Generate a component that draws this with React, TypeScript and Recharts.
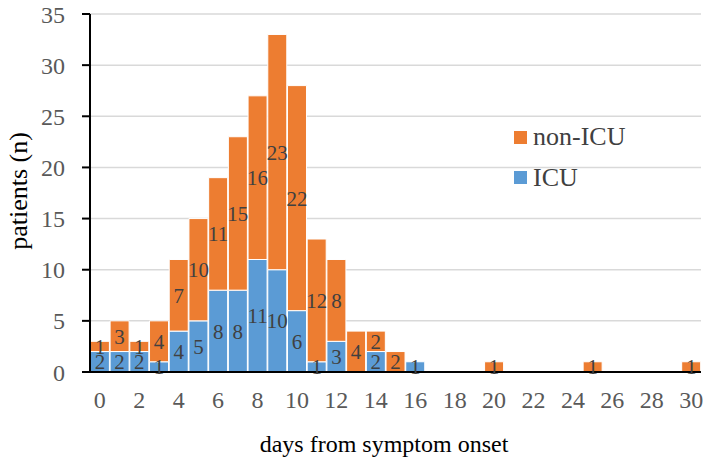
import React from 'react'
import { BarChart, Bar, XAxis, YAxis, CartesianGrid, LabelList, Customized } from 'recharts'

const days = [
  '0', '1', '2', '3', '4', '5', '6', '7', '8', '9', '10', '11', '12', '13', '14', '15',
  '16', '17', '18', '19', '20', '21', '22', '23', '24', '25', '26', '27', '28', '29', '30',
]
const icu = [2, 2, 2, 1, 4, 5, 8, 8, 11, 10, 6, 1, 3, 0, 2, 0, 1, 0, 0, 0, 0, 0, 0, 0, 0, 0, 0, 0, 0, 0, 0]
const nonIcu = [1, 3, 1, 4, 7, 10, 11, 15, 16, 23, 22, 12, 8, 4, 2, 2, 0, 0, 0, 0, 1, 0, 0, 0, 0, 1, 0, 0, 0, 0, 1]
const yTicks = [0, 5, 10, 15, 20, 25, 30, 35]

const data = days.map((d, i) => ({ day: d, icu: icu[i], nonIcu: nonIcu[i] }))

const FONT = '"Liberation Serif", "Times New Roman", serif'
const ORANGE = '#ED7D31'
const BLUE = '#5B9BD5'

const hideZero = (v: any) => (v ? v : '')

// legend + axis titles, drawn in the svg
const Extras = () => (
  <g>
    <rect x={514} y={131} width={13} height={13} fill={ORANGE} />
    <text x={533} y={145} fontSize={26} fill="#404040">non-ICU</text>
    <rect x={514} y={171} width={13} height={13} fill={BLUE} />
    <text x={533} y={186} fontSize={26} fill="#404040">ICU</text>
    <text x={384} y={452} fontSize={24} fill="#000" textAnchor="middle">days from symptom onset</text>
    <text x={27} y={191} fontSize={26} fill="#000" textAnchor="middle" transform="rotate(-90, 27, 191)">
      patients (n)
    </text>
  </g>
)

export default function App() {
  return (
    <div style={{ position: 'absolute', left: 0, top: 0, background: '#fff', fontFamily: FONT }}>
      <BarChart
        width={709}
        height={467}
        data={data}
        margin={{ top: 14, right: 8, left: 0, bottom: 0 }}
        barCategoryGap="2%"
      >
        <CartesianGrid vertical={false} stroke="#d9d9d9" strokeWidth={1.5} />
        <XAxis
          dataKey="day"
          interval={1}
          height={95}
          tickLine={false}
          tickSize={6}
          tickMargin={13}
          axisLine={{ stroke: '#000', strokeWidth: 2 }}
          tick={{ fill: '#595959', fontSize: 24 }}
        />
        <YAxis
          width={90}
          domain={[0, 35]}
          ticks={yTicks}
          tickSize={8}
          tickMargin={17}
          tickLine={{ stroke: '#000', strokeWidth: 2 }}
          axisLine={{ stroke: '#000', strokeWidth: 2 }}
          tick={{ fill: '#595959', fontSize: 24 }}
        />
        <Bar dataKey="icu" name="ICU" stackId="a" fill={BLUE} stroke="#fff" strokeWidth={1} isAnimationActive={false}>
          <LabelList dataKey="icu" position="center" formatter={hideZero} fill="#404040" fontSize={21} />
        </Bar>
        <Bar dataKey="nonIcu" name="non-ICU" stackId="a" fill={ORANGE} stroke="#fff" strokeWidth={1} isAnimationActive={false}>
          <LabelList dataKey="nonIcu" position="center" formatter={hideZero} fill="#404040" fontSize={21} />
        </Bar>
        <Customized component={Extras} />
      </BarChart>
    </div>
  )
}
